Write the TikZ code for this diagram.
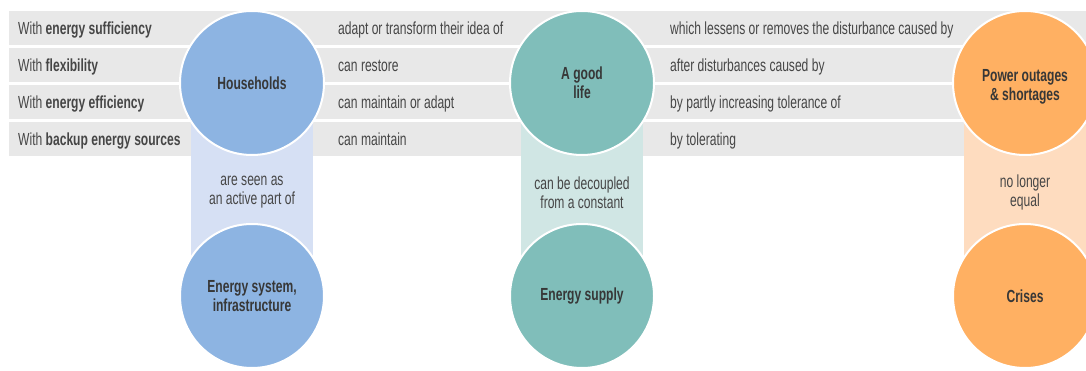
\documentclass[tikz,border=0pt]{standalone}
\usepackage{fontspec}
\setmainfont{Liberation Sans}[FakeStretch=0.69]
\usetikzlibrary{positioning}
\definecolor{rowGray}{RGB}{232,232,232}
\definecolor{txtGray}{RGB}{70,70,70}
\definecolor{discTxt}{RGB}{55,55,55}
\definecolor{hBlue}{RGB}{141,180,226}
\definecolor{hBlueL}{RGB}{214,224,244}
\definecolor{gTeal}{RGB}{128,190,186}
\definecolor{gTealL}{RGB}{208,230,228}
\definecolor{pOrange}{RGB}{255,176,98}
\definecolor{pOrangeL}{RGB}{254,220,191}
\tikzset{
  bar/.style={fill=rowGray},
  rowtxt/.style={anchor=base west, inner sep=0pt, text=txtGray,
                 font=\fontsize{17.5}{19}\selectfont},
  disctxt/.style={align=center, text=discTxt, inner sep=0pt,
                  font=\fontsize{17.5}{19}\selectfont\bfseries},
  disc/.style={circle, draw=white, line width=2pt, minimum size=144pt,
               disctxt},
  link/.style={line width=122pt},
  linktxt/.style={align=center, text=txtGray, inner sep=0pt, yshift=-3pt,
                  font=\fontsize{17.5}{19}\selectfont},
}

\begin{document}
\begin{tikzpicture}[x=1pt,y=-1pt]
  \useasboundingbox (0,0) rectangle (1086,371);
  \clip (0,0) rectangle (1086,371);
  % grey rows
  \foreach \i in {0,...,3}
    \fill[bar] (9,{11+37*\i}) rectangle (1086,{45.5+37*\i});

  % row texts
  \node[rowtxt] (r1a) at (18,35)    {With \textbf{energy sufficiency}};
  \node[rowtxt] (r2a) at (18,72)    {With \textbf{flexibility}};
  \node[rowtxt] (r3a) at (18,109)   {With \textbf{energy efficiency}};
  \node[rowtxt] (r4a) at (18,146)   {With \textbf{backup energy sources}};
  \node[rowtxt] (r1b) at (338,35)   {adapt or transform their idea of};
  \node[rowtxt] (r2b) at (338,72)   {can restore};
  \node[rowtxt] (r3b) at (338,109)  {can maintain or adapt};
  \node[rowtxt] (r4b) at (338,146)  {can maintain};
  \node[rowtxt] (r1c) at (670,35)   {which lessens or removes the disturbance caused by};
  \node[rowtxt] (r2c) at (670,72)   {after disturbances caused by};
  \node[rowtxt] (r3c) at (670,109)  {by partly increasing tolerance of};
  \node[rowtxt] (r4c) at (670,146)  {by tolerating};

  % circle positions
  \coordinate (hhc) at (252,83);
  \coordinate (glc) at (582,83);
  \coordinate (poc) at (1025,83);
  \coordinate (esc) at (252,296);
  \coordinate (suc) at (582,296);
  \coordinate (crc) at (1025,296);

  % links between upper and lower circles
  \draw[link, hBlueL] (hhc) -- (esc)
    node[midway, linktxt] (l1) {are seen as\\an active part of};
  \draw[link, gTealL] (glc) -- (suc)
    node[midway, linktxt] (l2) {can be decoupled\\from a constant};
  \draw[link, pOrangeL] (poc) -- (crc)
    node[midway, linktxt] (l3) {no longer\\equal};

  % circles
  \node[disc, fill=hBlue]   (hh)   at (hhc) {Households};
  \node[disc, fill=gTeal]   (good) at (glc) {A good\\life};
  \node[disc, fill=pOrange, label={[disctxt, yshift=-4pt]center:Power outages\\\& shortages}]
                            (pow)  at (poc) {};
  \node[disc, fill=hBlue]   (esys) at (esc) {Energy system,\\infrastructure};
  \node[disc, fill=gTeal]   (sup)  at (suc) {Energy supply};
  \node[disc, fill=pOrange] (cris) at (crc) {Crises};
\end{tikzpicture}
\end{document}
